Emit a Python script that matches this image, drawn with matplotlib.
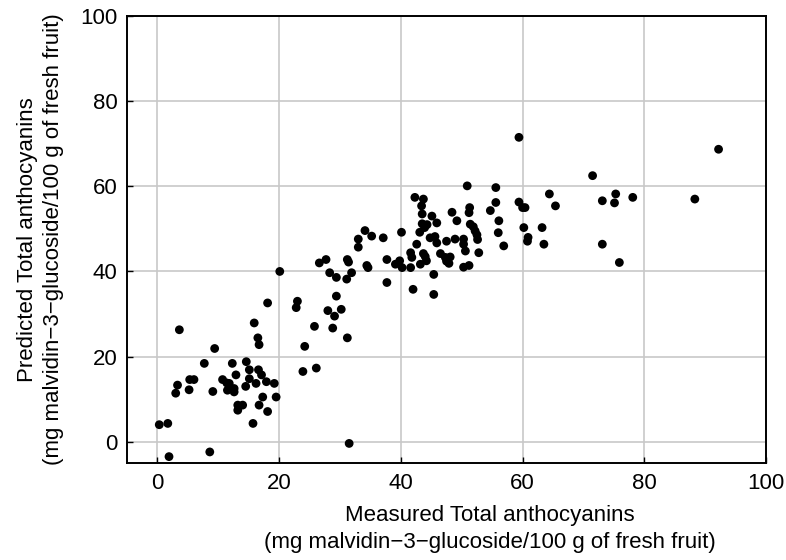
import numpy as np
import matplotlib
matplotlib.use("Agg")
from matplotlib import pyplot as plt

# measured vs predicted total anthocyanins
measured = [
    0.3, 1.7, 1.9, 8.6, 3.6, 9.4, 16.5, 16.7, 15.9, 18.1, 20.1, 23.0, 22.8, 24.2,
    7.7, 12.3, 14.6, 15.1, 16.6, 17.1, 12.9, 23.9, 26.1, 5.3, 6.0, 3.3, 3.0, 5.2,
    9.1, 10.7, 11.4, 11.8, 11.5, 12.6, 12.6, 14.5, 15.1, 16.2, 17.9, 19.2, 19.5,
    17.3, 16.7, 18.1, 13.2, 14.0, 13.2, 15.7, 31.5, 25.8, 28.8, 28.0, 29.1, 30.2,
    29.4, 31.2,
    26.6, 27.7, 31.2, 31.4, 28.3, 29.4, 31.1, 31.9, 34.4, 34.6, 37.7, 37.7,
    39.1, 39.8, 40.2, 41.6, 41.6, 41.8, 33.0, 33.0, 34.1, 35.2, 37.1, 40.1,
    42.3, 43.7, 43.4, 43.5, 45.1, 45.9, 48.4, 49.2, 51.3, 51.2, 54.7, 55.6,
    50.9, 55.6, 43.5, 44.3, 43.9, 43.1, 44.8, 45.6, 45.9, 47.5, 48.9, 50.3,
    50.3, 50.6, 51.4, 51.9, 52.2, 52.5, 52.6, 52.8, 56.0, 56.1, 56.9, 42.6,
    43.7, 44.0, 44.2, 43.2, 46.5, 47.3, 47.5, 48.1, 47.9, 45.4, 45.4, 42.0,
    50.3, 51.2,
    59.4, 71.5, 64.4, 65.4, 59.4, 60.0, 60.4, 63.2, 60.2, 60.9, 60.8, 63.5,
    73.1, 75.1, 75.3, 78.1, 88.3, 92.2, 73.1, 75.9,
]
predicted = [
    4.0, 4.3, -3.5, -2.4, 26.3, 21.9, 24.4, 22.8, 27.9, 32.6, 40.0, 33.0, 31.5, 22.4,
    18.4, 18.4, 18.8, 16.9, 16.9, 15.7, 15.7, 16.5, 17.3, 14.6, 14.6, 13.3, 11.4, 12.2,
    11.8, 14.6, 13.8, 13.7, 12.1, 12.5, 11.7, 13.0, 14.8, 13.7, 14.1, 13.7, 10.5,
    10.5, 8.6, 7.1, 8.6, 8.6, 7.4, 4.3, -0.4, 27.1, 26.7, 30.8, 29.5, 31.1,
    34.2, 24.4,
    42.0, 42.8, 42.8, 42.2, 39.7, 38.6, 38.2, 39.7, 41.4, 40.9, 42.8, 37.4,
    41.7, 42.5, 40.9, 40.9, 44.4, 43.3, 47.6, 45.7, 49.6, 48.3, 47.9, 49.2,
    57.4, 57.0, 55.4, 53.5, 53.0, 51.4, 53.9, 51.9, 55.0, 53.8, 54.3, 56.2,
    60.1, 59.7, 51.2, 51.0, 50.3, 49.2, 47.9, 48.2, 46.7, 47.1, 47.6, 47.6,
    46.4, 44.8, 51.1, 50.5, 49.5, 48.6, 47.5, 44.4, 49.1, 51.9, 46.0, 46.4,
    44.2, 43.5, 42.5, 41.7, 44.2, 43.3, 42.4, 43.4, 41.9, 39.3, 34.6, 35.8,
    41.0, 41.4,
    71.5, 62.5, 58.2, 55.4, 56.3, 55.0, 55.0, 50.3, 50.3, 48.0, 47.1, 46.4,
    56.6, 56.1, 58.2, 57.4, 57.0, 68.7, 46.4, 42.1,
]

ticks = [0, 20, 40, 60, 80, 100]

plt.rcParams['font.family'] = ['Liberation Sans', 'DejaVu Sans']
plt.rcParams['font.size'] = 16

fig = plt.figure(figsize=(7.86, 5.6), dpi=100)
ax = fig.add_axes([0.1616, 0.1732, 0.8130, 0.7982])

ax.scatter(measured, predicted, s=40, c="black", edgecolors="none", zorder=3)

ax.set_xlim(-5, 100)
ax.set_ylim(-5, 100)
ax.set_xticks(ticks)
ax.set_yticks(ticks)
ax.grid(True, color="#c8c8c8", linewidth=1.2)
ax.set_axisbelow(True)
ax.tick_params(direction="in", length=4, width=1.0, pad=7, labelsize=16, colors="black")
for sp in ax.spines.values():
    sp.set_linewidth(1.4)

ax.set_xlabel("Measured Total anthocyanins\n(mg malvidin\u22123\u2212glucoside/100 g of fresh fruit)",
              fontsize=16, linespacing=1.35)
ax.xaxis.set_label_coords(0.568, -0.095, transform=ax.transAxes)
ax.xaxis.label.set_va("top")
ax.set_ylabel("Predicted Total anthocyanins\n(mg malvidin\u22123\u2212glucoside/100 g of fresh fruit)",
              fontsize=16, linespacing=1.35)
ax.yaxis.set_label_coords(-0.098, 0.5, transform=ax.transAxes)

fig.savefig("out.png", dpi=100)
